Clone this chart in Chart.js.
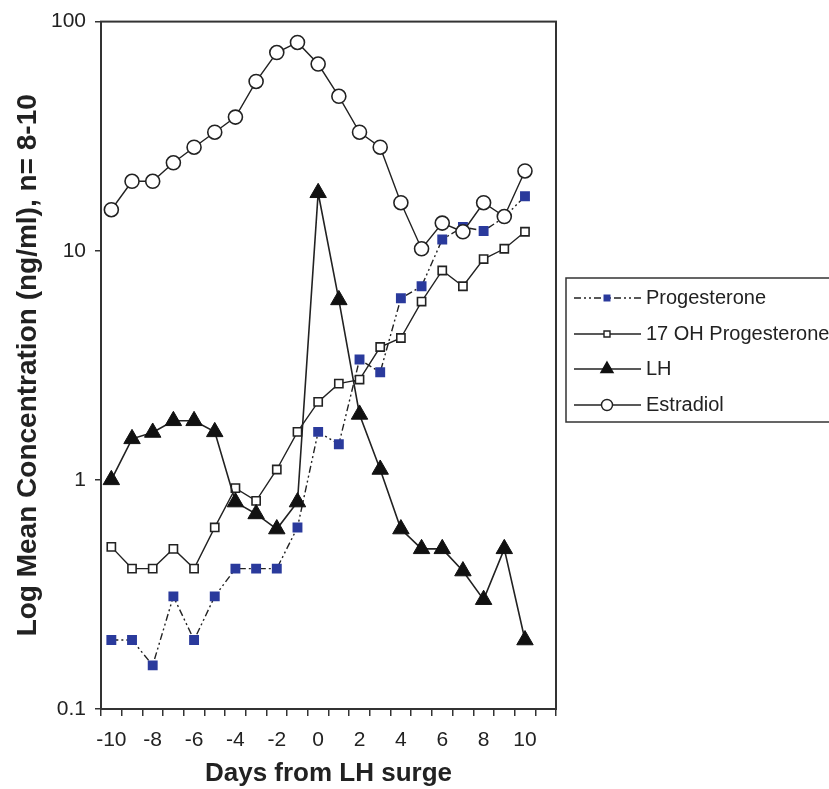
<!DOCTYPE html>
<html>
<head>
<meta charset="utf-8">
<script src="https://cdn.jsdelivr.net/npm/chart.js@4.4.1/dist/chart.umd.min.js"></script>
<style>
  html, body { margin: 0; padding: 0; background: #fff; }
  canvas { display: block; }
</style>
</head>
<body>
<canvas id="chart" width="829" height="789"></canvas>
<script>
// Tage relativ zum LH-Peak (Tag 11 bleibt leer, wie im Original)
const days = [-10, -9, -8, -7, -6, -5, -4, -3, -2, -1, 0, 1, 2, 3, 4, 5, 6, 7, 8, 9, 10, 11];

// Mittelwerte in ng/ml
const progesterone = [0.20, 0.20, 0.155, 0.31, 0.20, 0.31, 0.41, 0.41, 0.41, 0.62, 1.62, 1.43, 3.35, 2.95, 6.2, 7.0, 11.2, 12.7, 12.2, 14.0, 17.3];
const ohProgesterone = [0.51, 0.41, 0.41, 0.50, 0.41, 0.62, 0.92, 0.81, 1.11, 1.62, 2.19, 2.63, 2.74, 3.8, 4.16, 6.0, 8.2, 7.0, 9.2, 10.2, 12.1];
const lh = [1.0, 1.51, 1.61, 1.81, 1.81, 1.62, 0.80, 0.71, 0.61, 0.80, 17.9, 6.1, 1.93, 1.11, 0.61, 0.50, 0.50, 0.40, 0.30, 0.50, 0.20];
const estradiol = [15.1, 20.1, 20.1, 24.2, 28.3, 32.9, 38.3, 54.8, 73.3, 81.1, 65.3, 47.2, 32.9, 28.3, 16.2, 10.2, 13.2, 12.1, 16.2, 14.1, 22.3];

const yTicks = [0.1, 1, 10, 100];
const seriesNames = ["Progesterone", "17 OH Progesterone", "LH", "Estradiol"];

const FONT = "'Liberation Sans', Arial, sans-serif";
const INK = "#222";

Chart.defaults.font.family = FONT;
Chart.defaults.color = INK;

const datasets = [
  {
    label: seriesNames[0],
    data: progesterone,
    borderColor: INK,
    borderWidth: 1.4,
    borderDash: [7, 3, 2, 3, 2, 3],
    pointStyle: "rect",
    pointRadius: 7,
    pointBackgroundColor: "#2a3a9c",
    pointBorderColor: "#2a3a9c",
    pointBorderWidth: 0,
    order: 2
  },
  {
    label: seriesNames[1],
    data: ohProgesterone,
    borderColor: INK,
    borderWidth: 1.4,
    pointStyle: "rect",
    pointRadius: 5.8,
    pointBackgroundColor: "#fff",
    pointBorderColor: INK,
    pointBorderWidth: 1.6,
    order: 3
  },
  {
    label: seriesNames[2],
    data: lh,
    borderColor: INK,
    borderWidth: 1.6,
    pointStyle: "triangle",
    pointRadius: 9.5,
    pointBackgroundColor: "#111",
    pointBorderColor: "#111",
    pointBorderWidth: 1,
    order: 1
  },
  {
    label: seriesNames[3],
    data: estradiol,
    borderColor: INK,
    borderWidth: 1.4,
    pointStyle: "circle",
    pointRadius: 7,
    pointBackgroundColor: "#fff",
    pointBorderColor: INK,
    pointBorderWidth: 1.6,
    order: 0
  }
];

// Rahmen um den Plotbereich
const framePlugin = {
  id: "frame",
  afterDraw(chart) {
    const { ctx, chartArea: a } = chart;
    ctx.save();
    ctx.strokeStyle = "#333";
    ctx.lineWidth = 2;
    ctx.strokeRect(a.left, a.top, a.right - a.left, a.bottom - a.top);
    ctx.restore();
  }
};

// Legende im Kasten rechts (läuft über den Bildrand hinaus)
const legendPlugin = {
  id: "boxLegend",
  afterDraw(chart) {
    const ctx = chart.ctx;
    const box = { x: 566, y: 278, w: 280, h: 144 };
    const rows = [298, 334, 369, 405];
    ctx.save();
    ctx.strokeStyle = "#333";
    ctx.lineWidth = 1.5;
    ctx.strokeRect(box.x, box.y, box.w, box.h);

    chart.data.datasets.forEach((ds, i) => {
      const y = rows[i];
      const mx = 607;
      ctx.strokeStyle = INK;
      ctx.lineWidth = 1.3;
      ctx.setLineDash(ds.borderDash || []);
      ctx.beginPath();
      ctx.moveTo(574, y);
      ctx.lineTo(641, y);
      ctx.stroke();
      ctx.setLineDash([]);

      ctx.fillStyle = ds.pointBackgroundColor;
      ctx.strokeStyle = ds.pointBorderColor;
      ctx.lineWidth = 1.4;
      ctx.beginPath();
      if (ds.pointStyle === "rect") {
        const s = i === 0 ? 3.5 : 3;
        ctx.rect(mx - s, y - s, 2 * s, 2 * s);
      } else if (ds.pointStyle === "triangle") {
        const r = 7;
        ctx.moveTo(mx, y - r);
        ctx.lineTo(mx + r * 0.866, y + r / 2);
        ctx.lineTo(mx - r * 0.866, y + r / 2);
        ctx.closePath();
      } else {
        ctx.arc(mx, y, 5.5, 0, Math.PI * 2);
      }
      ctx.fill();
      if (i !== 0) ctx.stroke();

      ctx.fillStyle = INK;
      ctx.font = "20px " + FONT;
      ctx.textBaseline = "middle";
      ctx.textAlign = "left";
      ctx.fillText(ds.label, 646, y);
    });
    ctx.restore();
  }
};

new Chart(document.getElementById("chart"), {
  type: "line",
  data: { labels: days, datasets },
  options: {
    responsive: false,
    animation: false,
    devicePixelRatio: 1,
    layout: { padding: { top: 20, right: 273, left: 0, bottom: 0 } },
    plugins: {
      legend: { display: false },
      tooltip: { enabled: false }
    },
    scales: {
      x: {
        type: "category",
        offset: true,
        grid: {
          offset: true,
          drawOnChartArea: false,
          drawTicks: true,
          tickLength: 7,
          color: "#333",
          lineWidth: 1.5
        },
        border: { display: true, color: "#333", width: 2 },
        ticks: {
          autoSkip: false,
          maxRotation: 0,
          padding: 12,
          font: { size: 21 },
          color: INK,
          callback: function(value) {
            const d = days[value];
            return (d % 2 === 0 && d <= 10) ? String(d) : "";
          }
        },
        title: {
          display: true,
          text: "Days from LH surge",
          font: { size: 26, weight: "bold" },
          color: INK,
          padding: { top: 0, bottom: 0 }
        },
        afterFit(scale) { scale.height = 80; }
      },
      y: {
        type: "logarithmic",
        min: 0.1,
        max: 100,
        grid: {
          drawOnChartArea: false,
          drawTicks: true,
          tickLength: 6,
          color: "#333",
          lineWidth: 1.5
        },
        border: { display: true, color: "#333", width: 2 },
        ticks: {
          padding: 9,
          font: { size: 21 },
          color: INK,
          callback: value => String(value)
        },
        afterBuildTicks(scale) {
          scale.ticks = yTicks.map(v => ({ value: v }));
        },
        title: {
          display: true,
          text: "Log Mean Concentration (ng/ml), n= 8-10",
          font: { size: 28, weight: "bold" },
          color: INK,
          padding: { top: 11, bottom: 0 }
        },
        afterFit(scale) { scale.width = 101; }
      }
    }
  },
  plugins: [framePlugin, legendPlugin]
});
</script>
</body>
</html>
